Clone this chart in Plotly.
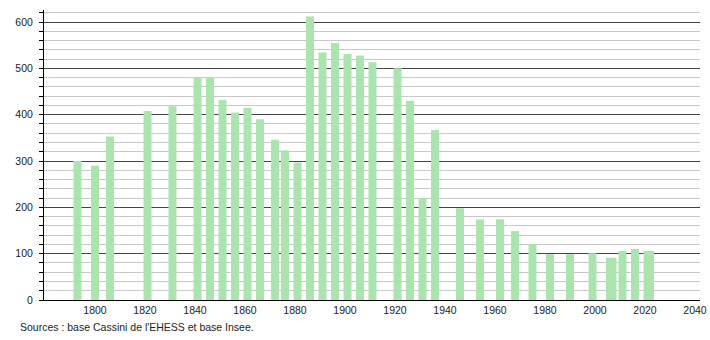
import plotly.graph_objects as go

years = [1793, 1800, 1806, 1821, 1831, 1841, 1846, 1851, 1856, 1861, 1866,
         1872, 1876, 1881, 1886, 1891, 1896, 1901, 1906, 1911, 1921, 1926,
         1931, 1936, 1946, 1954, 1962, 1968, 1975, 1982, 1990, 1999, 2006,
         2007, 2011, 2016, 2021, 2022]
population = [300, 290, 353, 408, 418, 481, 481, 432, 405, 415, 390,
              346, 323, 297, 612, 534, 555, 531, 528, 513, 500, 430,
              220, 367, 198, 174, 174, 149, 121, 99, 99, 101, 91,
              91, 106, 110, 106, 106]

x_ticks = list(range(1800, 2041, 20))
y_ticks = list(range(0, 601, 100))
source_text = "Sources : base Cassini de l'EHESS et base Insee."

FONT = "Liberation Sans, Arial, sans-serif"
FS = 10.5

fig = go.Figure(go.Bar(
    x=years, y=population, width=3.2,
    marker=dict(color="rgb(172,228,176)", line=dict(width=0)),
    hoverinfo="x+y",
))

plot_w = 710 - 44 - 10
plot_h = 340 - 10 - 40

fig.update_layout(
    width=710, height=340,
    margin=dict(l=44, r=10, t=10, b=40, autoexpand=False),
    paper_bgcolor="white", plot_bgcolor="white",
    showlegend=False,
    font=dict(family=FONT, size=FS, color="#222"),
    xaxis=dict(
        range=[1779.6, 2042], tickvals=x_ticks, ticktext=[str(t) for t in x_ticks],
        showgrid=False, zeroline=False, showline=True, linecolor="black", linewidth=1,
        ticks="", tickfont=dict(size=FS, color="#222"), automargin=False,
    ),
    yaxis=dict(
        range=[0, 626], tickvals=y_ticks, showgrid=True, gridcolor="#444", gridwidth=1,
        zeroline=False, showline=True, linecolor="black", linewidth=1,
        ticks="outside", ticklen=4, tickcolor="black", ticklabelstandoff=4,
        tickfont=dict(size=FS, color="#222"), automargin=False,
        minor=dict(dtick=20, showgrid=True, gridcolor="#c8c8c8", gridwidth=1,
                   ticks="outside", ticklen=4, tickcolor="black"),
    ),
    annotations=[dict(
        text=source_text, x=(18 - 44) / plot_w, y=(340 - 40 - 327) / plot_h,
        xref="paper", yref="paper",
        showarrow=False, xanchor="left", yanchor="middle",
        font=dict(family=FONT, size=FS, color="#222"),
    )],
)

fig.write_html("out.html")
